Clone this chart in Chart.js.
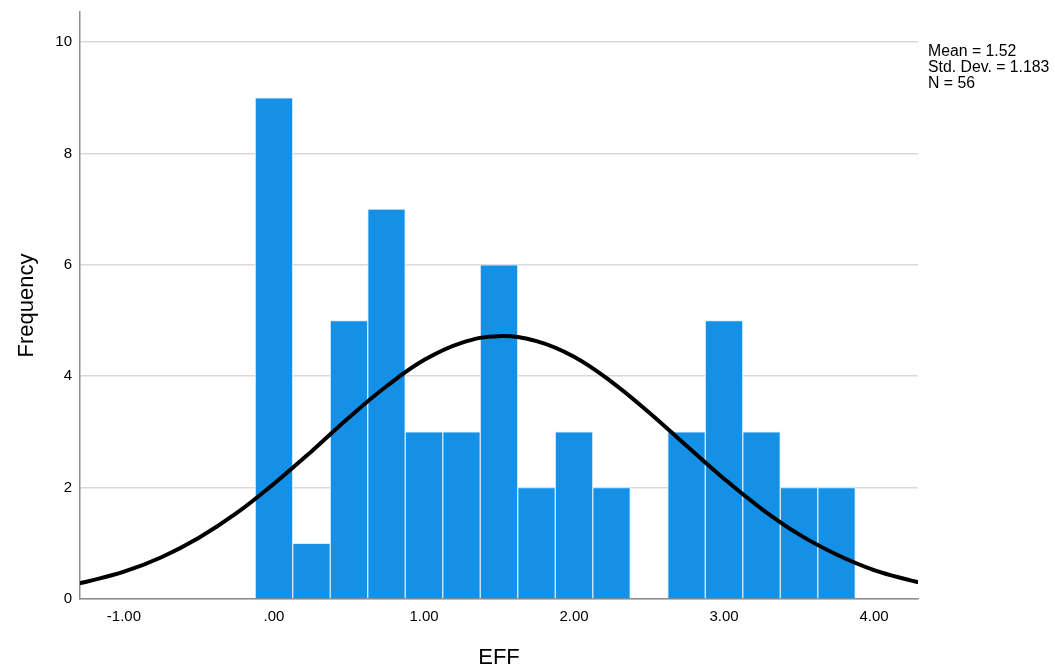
<!DOCTYPE html>
<html>
<head>
<meta charset="utf-8">
<script src="https://cdn.jsdelivr.net/npm/chart.js@4.4.0/dist/chart.umd.min.js"></script>
<style>
  html, body { margin: 0; padding: 0; background: #fff; }
  #wrap { width: 1055px; height: 671px; }
</style>
</head>
<body>
<div id="wrap"><canvas id="histChart" width="1055" height="671"></canvas></div>
<script>
// Histogram bins (bin centres, width 0.25) and counts
var binCenters = [0, 0.25, 0.5, 0.75, 1.0, 1.25, 1.5, 1.75, 2.0, 2.25, 2.5, 2.75, 3.0, 3.25, 3.5, 3.75];
var binCounts  = [9, 1, 5, 7, 3, 3, 6, 2, 3, 2, 0, 3, 5, 3, 2, 2];

// Normal curve
var curveX = [-1.3, -1.25, -1.0, -0.75, -0.5, -0.25, 0, 0.25, 0.5, 0.75, 1.0, 1.25, 1.5,
              1.75, 2.0, 2.25, 2.5, 2.75, 3.0, 3.25, 3.5, 3.75, 4.0, 4.25, 4.3];
var curveY = [0.28, 0.31, 0.49, 0.75, 1.10, 1.54, 2.07, 2.65, 3.26, 3.82, 4.29, 4.60, 4.72,
              4.63, 4.35, 3.90, 3.35, 2.75, 2.16, 1.62, 1.16, 0.80, 0.52, 0.33, 0.30];

var xTickValues = [-1, 0, 1, 2, 3, 4];
var yTickValues = [0, 2, 4, 6, 8, 10];
var statsLines = ["Mean = 1.52", "Std. Dev. = 1.183", "N = 56"];

var barPoints = binCenters.map(function(c, i) { return { x: c, y: binCounts[i] }; });
var curvePoints = curveX.map(function(c, i) { return { x: c, y: curveY[i] }; });

var fontFamily = "'Liberation Sans', Arial, sans-serif";

function fmtTick(v) {
    var s = v.toFixed(2);
    if (s.indexOf("0.") === 0) s = s.substring(1);
    return s;
}

// Draws the Mean / Std. Dev. / N block on the right
var statsPlugin = {
    id: "statsText",
    afterDraw: function(chart) {
        var ctx = chart.ctx;
        ctx.save();
        ctx.fillStyle = "#000";
        ctx.font = "15.8px " + fontFamily;
        ctx.textBaseline = "middle";
        ctx.textAlign = "left";
        statsLines.forEach(function(line, i) {
            ctx.fillText(line, 928, 52 + i * 16);
        });
        ctx.restore();
    }
};

var ctx = document.getElementById("histChart").getContext("2d");
var histChart = new Chart(ctx, {
    type: "bar",
    data: {
        datasets: [
            {
                type: "line",
                data: curvePoints,
                borderColor: "#000",
                borderWidth: 4,
                pointRadius: 0,
                tension: 0.4,
                fill: false,
                order: 0
            },
            {
                type: "bar",
                data: barPoints,
                backgroundColor: "#1490e6",
                borderColor: "#d6ebfa",
                borderWidth: 1,
                barPercentage: 1,
                categoryPercentage: 1,
                grouped: false,
                order: 1
            }
        ]
    },
    options: {
        responsive: false,
        animation: false,
        layout: { padding: { top: 12, right: 137, left: 0, bottom: 0 } },
        plugins: {
            legend: { display: false },
            tooltip: { enabled: false }
        },
        scales: {
            x: {
                type: "linear",
                min: -1.293,
                max: 4.293,
                offset: false,
                afterBuildTicks: function(scale) {
                    scale.ticks = xTickValues.map(function(v) { return { value: v }; });
                },
                afterFit: function(scale) { scale.height = 72; },
                grid: { display: false, drawTicks: false },
                border: { display: true, color: "#8c8c8c", width: 1.5 },
                ticks: {
                    color: "#000",
                    padding: 9,
                    maxRotation: 0,
                    font: { family: fontFamily, size: 15 },
                    callback: function(v) { return fmtTick(v); }
                },
                title: {
                    display: true,
                    text: "EFF",
                    color: "#000",
                    padding: { top: 0, bottom: 0 },
                    font: { family: fontFamily, size: 22 }
                }
            },
            y: {
                min: 0,
                max: 10.54,
                afterBuildTicks: function(scale) {
                    scale.ticks = yTickValues.map(function(v) { return { value: v }; });
                },
                afterFit: function(scale) {
                    scale.width = 80;
                    scale.paddingTop = 0;
                    scale.paddingBottom = 0;
                },
                grid: { color: "#d9d9d9", lineWidth: 1.5, drawTicks: false },
                border: { display: true, color: "#8c8c8c", width: 1.5 },
                ticks: {
                    color: "#000",
                    padding: 8,
                    font: { family: fontFamily, size: 15 },
                    callback: function(v) { return v; }
                },
                title: {
                    display: true,
                    text: "Frequency",
                    color: "#000",
                    padding: { top: 14, bottom: 0 },
                    font: { family: fontFamily, size: 22 }
                }
            }
        }
    },
    plugins: [statsPlugin]
});
</script>
</body>
</html>
